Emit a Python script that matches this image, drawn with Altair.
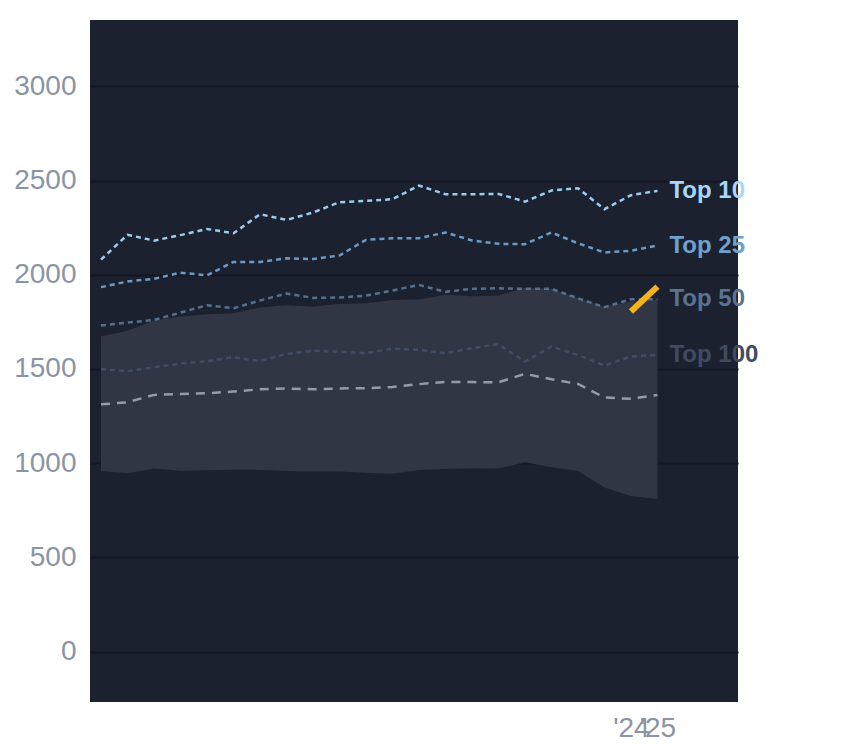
import altair as alt
import pandas as pd

years = [2004, 2005, 2006, 2007, 2008, 2009, 2010, 2011, 2012, 2013, 2014,
         2015, 2016, 2017, 2018, 2019, 2020, 2021, 2022, 2023, 2024, 2025]

top10 = [2080, 2212, 2181, 2210, 2243, 2220, 2321, 2291, 2330, 2385, 2392,
         2401, 2473, 2427, 2427, 2429, 2388, 2447, 2459, 2348, 2422, 2445]
top25 = [1934, 1964, 1978, 2011, 1997, 2068, 2068, 2087, 2083, 2102, 2185,
         2194, 2194, 2224, 2182, 2164, 2162, 2224, 2167, 2118, 2127, 2155]
top50 = [1730, 1746, 1760, 1799, 1838, 1822, 1863, 1900, 1877, 1879, 1889,
         1916, 1946, 1909, 1925, 1928, 1925, 1925, 1875, 1828, 1870, 1870]
top100 = [1500, 1488, 1509, 1528, 1541, 1562, 1542, 1580, 1596, 1592, 1583,
          1608, 1601, 1583, 1610, 1631, 1539, 1619, 1574, 1518, 1566, 1574]
median = [1312, 1323, 1362, 1367, 1371, 1380, 1392, 1396, 1392, 1396, 1398,
          1404, 1419, 1431, 1430, 1429, 1474, 1445, 1420, 1348, 1341, 1362]
band_hi = [1672, 1703, 1757, 1778, 1790, 1796, 1826, 1838, 1831, 1845, 1849,
           1866, 1868, 1893, 1886, 1890, 1930, 1925, 1877, 1830, 1858, 1870]
band_lo = [958, 946, 971, 960, 962, 965, 964, 958, 955, 955, 949,
           944, 964, 969, 973, 971, 1005, 978, 958, 870, 826, 810]

highlight_years = [2024, 2025]
highlight_values = [1805, 1937]

series_names = ["Top 10", "Top 25", "Top 50", "Top 100"]
series_values = [top10, top25, top50, top100]
line_colors = ["#9ccbee", "#6b9ac6", "#55708f", "#414d66"]
label_colors = ["#a8d6fc", "#6fa1cd", "#597392", "#404b62"]

y_ticks = [0, 500, 1000, 1500, 2000, 2500, 3000]
x_ticks = [2024, 2025]
x_tick_labels = ["'24", "'25"]

FONT = "Liberation Sans"

df = pd.DataFrame({"year": years, "lo": band_lo, "hi": band_hi, "median": median})

label_expr = '""'
for v, t in zip(reversed(x_ticks), reversed(x_tick_labels)):
    label_expr = f'datum.value == {v} ? "{t}" : ' + label_expr

x_enc = alt.X(
    "year:Q",
    scale=alt.Scale(domain=[2003.585, 2028.04], nice=False, zero=False),
    axis=alt.Axis(values=x_ticks, labelExpr=label_expr, grid=False, domain=False,
                  ticks=False, labelPadding=12, labelOverlap=False, labelFlush=False,
                  labelFontSize=28, labelColor="#8b94a5", labelFont=FONT),
    title=None,
)
y_scale = alt.Scale(domain=[-268, 3352], nice=False, zero=False)
y_axis = alt.Axis(values=y_ticks, format="d", grid=True, gridColor="#141822", gridWidth=2,
                  domain=False, ticks=False, labelPadding=14, labelFontSize=28,
                  labelColor="#8b94a5", labelFont=FONT)

band = alt.Chart(df).mark_area(color="#313645", opacity=1).encode(
    x=x_enc,
    y=alt.Y("lo:Q", scale=y_scale, axis=y_axis, title=None),
    y2="hi:Q",
)

med = alt.Chart(df).mark_line(color="#979ba5", strokeWidth=2.5, strokeDash=[9, 7]).encode(
    x=x_enc, y=alt.Y("median:Q", scale=y_scale, title=None)
)

layers = [band, med]
for name, vals, col in reversed(list(zip(series_names, series_values, line_colors))):
    sdf = pd.DataFrame({"year": years, "v": vals})
    layers.append(
        alt.Chart(sdf).mark_line(color=col, strokeWidth=2.5, strokeDash=[5, 4]).encode(
            x=x_enc, y=alt.Y("v:Q", scale=y_scale, title=None)
        )
    )

hdf = pd.DataFrame({"year": highlight_years, "v": highlight_values})
layers.append(
    alt.Chart(hdf).mark_line(color="#f6b21b", strokeWidth=6, strokeCap="butt").encode(
        x=x_enc, y=alt.Y("v:Q", scale=y_scale, title=None)
    )
)

ldf = pd.DataFrame({
    "name": series_names,
    "year": [years[-1]] * len(series_names),
    "v": [s[-1] for s in series_values],
})
layers.append(
    alt.Chart(ldf).mark_text(align="left", baseline="middle", dx=12, fontSize=24,
                             fontWeight="bold", font=FONT).encode(
        x=x_enc,
        y=alt.Y("v:Q", scale=y_scale, title=None),
        text="name:N",
        color=alt.Color("name:N", scale=alt.Scale(domain=series_names, range=label_colors),
                        legend=None),
    )
)

chart = alt.layer(*layers).properties(
    width=648, height=682,
    padding={"left": 5, "top": 12, "right": 5, "bottom": 5},
).configure_view(fill="#1c2130", strokeWidth=0)

chart.save("out.html", embed_options={"renderer": "svg", "actions": False})
